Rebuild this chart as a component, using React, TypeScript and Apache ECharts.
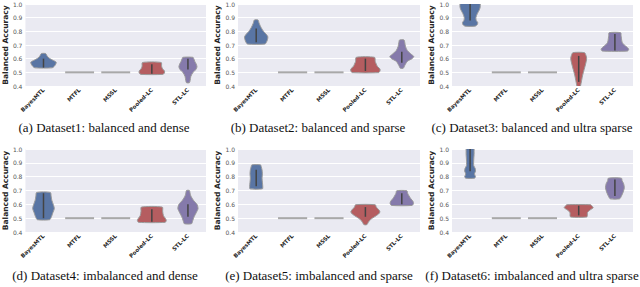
import React, { useEffect, useRef } from "react";
import * as echarts from "echarts";

const categories = ["BayesMTL", "MTFL", "MSSL", "Pooled-LC", "STL-LC"];
const yMin = 0.4;
const yMax = 1.0;
const yStep = 0.1;
const degenerateValue = 0.5;

const captions = [
  "(a) Dataset1: balanced and dense",
  "(b) Dataset2: balanced and sparse",
  "(c) Dataset3: balanced and ultra sparse",
  "(d) Dataset4: imbalanced and dense",
  "(e) Dataset5: imbalanced and sparse",
  "(f) Dataset6: imbalanced and ultra sparse",
];

// violin profiles: [value, half-width in category units]; null = degenerate (all 0.5)
type Prof = number[][] | null;
const d1Profiles: Prof[] = [
  [[0.533, 0.24], [0.545, 0.3], [0.56, 0.34], [0.575, 0.35], [0.59, 0.25], [0.605, 0.15], [0.62, 0.1], [0.637, 0.06]],
  null,
  null,
  [[0.485, 0.3], [0.495, 0.35], [0.51, 0.35], [0.525, 0.3], [0.545, 0.27], [0.572, 0.26]],
  [[0.424, 0.04], [0.44, 0.06], [0.47, 0.08], [0.5, 0.14], [0.52, 0.22], [0.54, 0.25], [0.56, 0.23], [0.58, 0.19], [0.6, 0.16], [0.61, 0.14]],
];
const d1Inner = [[0.535, 0.6], null, null, [0.49, 0.56], [0.52, 0.6]];

const d2Profiles: Prof[] = [
  [[0.707, 0.24], [0.72, 0.28], [0.74, 0.31], [0.76, 0.32], [0.78, 0.27], [0.8, 0.2], [0.83, 0.13], [0.86, 0.08], [0.883, 0.05]],
  null,
  null,
  [[0.498, 0.36], [0.51, 0.4], [0.525, 0.4], [0.54, 0.34], [0.56, 0.3], [0.58, 0.27], [0.61, 0.25]],
  [[0.53, 0.04], [0.55, 0.08], [0.58, 0.15], [0.6, 0.28], [0.615, 0.33], [0.63, 0.27], [0.66, 0.15], [0.69, 0.1], [0.72, 0.08], [0.737, 0.06]],
];
const d2Inner = [[0.72, 0.82], null, null, [0.51, 0.6], [0.57, 0.65]];

const d3Profiles: Prof[] = [
  [[0.838, 0.14], [0.85, 0.2], [0.865, 0.21], [0.88, 0.17], [0.9, 0.16], [0.93, 0.2], [0.96, 0.26], [0.98, 0.28], [1.0, 0.28], [1.03, 0.28]],
  null,
  null,
  [[0.36, 0.02], [0.4, 0.05], [0.44, 0.08], [0.48, 0.11], [0.52, 0.15], [0.56, 0.19], [0.6, 0.22], [0.625, 0.2], [0.644, 0.16]],
  [[0.656, 0.35], [0.67, 0.38], [0.685, 0.33], [0.7, 0.26], [0.72, 0.2], [0.75, 0.18], [0.77, 0.17], [0.79, 0.16]],
];
const d3Inner = [[0.88, 1.0], null, null, [0.43, 0.62], [0.66, 0.78]];

const d4Profiles: Prof[] = [
  [[0.489, 0.17], [0.51, 0.22], [0.54, 0.26], [0.57, 0.3], [0.6, 0.27], [0.63, 0.23], [0.66, 0.21], [0.686, 0.19]],
  null,
  null,
  [[0.47, 0.37], [0.485, 0.4], [0.5, 0.37], [0.52, 0.32], [0.55, 0.3], [0.58, 0.29]],
  [[0.46, 0.1], [0.48, 0.13], [0.51, 0.17], [0.54, 0.23], [0.57, 0.28], [0.6, 0.25], [0.63, 0.15], [0.66, 0.08], [0.68, 0.06], [0.7, 0.04]],
];
const d4Inner = [[0.5, 0.68], null, null, [0.475, 0.565], [0.51, 0.6]];

const d5Profiles: Prof[] = [
  [[0.712, 0.17], [0.73, 0.18], [0.76, 0.17], [0.79, 0.16], [0.82, 0.17], [0.85, 0.16], [0.87, 0.14], [0.885, 0.12]],
  null,
  null,
  [[0.453, 0.04], [0.47, 0.08], [0.49, 0.14], [0.51, 0.25], [0.53, 0.36], [0.545, 0.4], [0.56, 0.37], [0.58, 0.3], [0.597, 0.27]],
  [[0.592, 0.28], [0.605, 0.32], [0.62, 0.31], [0.64, 0.25], [0.66, 0.2], [0.68, 0.16], [0.698, 0.14]],
];
const d5Inner = [[0.73, 0.85], null, null, [0.51, 0.58], [0.6, 0.68]];

const d6Profiles: Prof[] = [
  [[0.789, 0.12], [0.8, 0.15], [0.82, 0.12], [0.84, 0.15], [0.86, 0.14], [0.88, 0.1], [0.92, 0.1], [0.96, 0.11], [1.0, 0.11], [1.03, 0.11]],
  null,
  null,
  [[0.508, 0.22], [0.52, 0.24], [0.54, 0.24], [0.56, 0.32], [0.575, 0.4], [0.59, 0.36], [0.597, 0.33]],
  [[0.64, 0.13], [0.66, 0.18], [0.69, 0.23], [0.72, 0.26], [0.75, 0.24], [0.77, 0.2], [0.789, 0.18]],
];
const d6Inner = [[0.84, 1.0], null, null, [0.52, 0.59], [0.66, 0.78]];

const allProfiles = [d1Profiles, d2Profiles, d3Profiles, d4Profiles, d5Profiles, d6Profiles];
const allInner = [d1Inner, d2Inner, d3Inner, d4Inner, d5Inner, d6Inner];

const fills = ["#5975a4", "#5f9e6e", "#5f9e6e", "#b55d60", "#857aab"];

const lefts = [22, 238, 452];
const widths = [184, 182, 181];
const tops = [4, 149];
const heights = [82, 83];
const captionCenters = [[104, 318, 532], [105, 319, 532]];
const captionTops = [127, 275];

export default function App() {
  const ref = useRef<HTMLDivElement>(null);
  useEffect(() => {
    if (!ref.current) return;
    const chart = echarts.init(ref.current, undefined, { renderer: "svg" });
    const grids: any[] = [];
    const xAxes: any[] = [];
    const yAxes: any[] = [];
    const series: any[] = [];
    for (let k = 0; k < 6; k++) {
      const r = Math.floor(k / 3);
      const c = k % 3;
      grids.push({
        left: lefts[c],
        top: tops[r],
        width: widths[c],
        height: heights[r],
        show: true,
        backgroundColor: "#eaeaf2",
        borderWidth: 0,
      });
      xAxes.push({
        type: "category",
        gridIndex: k,
        data: categories,
        axisLine: { show: false },
        axisTick: { show: false },
        axisLabel: {
          rotate: 45,
          interval: 0,
          fontSize: 5.5,
          fontWeight: "bold",
          color: "#262626",
          margin: 3,
          fontFamily: "DejaVu Sans",
        },
      });
      yAxes.push({
        type: "value",
        gridIndex: k,
        min: yMin,
        max: yMax,
        interval: yStep,
        name: "Balanced Accuracy",
        nameLocation: "middle",
        nameGap: 13,
        nameTextStyle: { fontSize: 7.5, fontWeight: "bold", color: "#262626", fontFamily: "DejaVu Sans" },
        axisLine: { show: false },
        axisTick: { show: false },
        splitLine: { lineStyle: { color: "#ffffff", width: 1 } },
        axisLabel: {
          fontSize: 6,
          color: "#555555",
          margin: 3,
          fontFamily: "DejaVu Sans",
          formatter: (v: number) => v.toFixed(1),
        },
      });
      const profiles = allProfiles[k];
      const inner = allInner[k];
      series.push({
        type: "custom",
        xAxisIndex: k,
        yAxisIndex: k,
        clip: true,
        data: categories.map((_, i) => [i, degenerateValue]),
        encode: { x: 0, y: 1 },
        renderItem: (params: any, api: any) => {
          const ci = api.value(0);
          const prof = profiles[ci];
          const bw = api.size([1, 0])[0];
          const center = api.coord([ci, degenerateValue]);
          if (!prof) {
            return {
              type: "line",
              shape: { x1: center[0] - 0.4 * bw, y1: center[1], x2: center[0] + 0.4 * bw, y2: center[1] },
              style: { stroke: "#a8a8a8", lineWidth: 2 },
            };
          }
          const right = prof.map(([v, w]) => {
            const p = api.coord([ci, v]);
            return [p[0] + w * bw, p[1]];
          });
          const left = prof
            .slice()
            .reverse()
            .map(([v, w]) => {
              const p = api.coord([ci, v]);
              return [p[0] - w * bw, p[1]];
            });
          const children: any[] = [
            {
              type: "polygon",
              shape: { points: right.concat(left), smooth: 0.25 },
              style: { fill: fills[ci], stroke: "#9a9a9a", lineWidth: 1 },
            },
          ];
          const inn = inner[ci];
          if (inn) {
            const p1 = api.coord([ci, inn[0]]);
            const p2 = api.coord([ci, inn[1]]);
            children.push({
              type: "line",
              shape: { x1: p1[0], y1: p1[1], x2: p2[0], y2: p2[1] },
              style: { stroke: "#444444", lineWidth: 1.5 },
            });
          }
          return { type: "group", children };
        },
      });
    }
    const graphicEls = captions.map((t, k) => {
      const r = Math.floor(k / 3);
      const c = k % 3;
      return {
        type: "text",
        x: captionCenters[r][c],
        y: captionTops[r],
        style: {
          text: t,
          fontSize: 13,
          fontFamily: "Liberation Serif",
          fill: "#111111",
          textAlign: "center",
          textVerticalAlign: "middle",
        },
      };
    });
    chart.setOption({
      animation: false,
      backgroundColor: "#ffffff",
      grid: grids,
      xAxis: xAxes,
      yAxis: yAxes,
      series,
      graphic: graphicEls,
    });
    return () => chart.dispose();
  }, []);
  return <div ref={ref} style={{ position: "fixed", left: 0, top: 0, width: 640, height: 287 }} />;
}
